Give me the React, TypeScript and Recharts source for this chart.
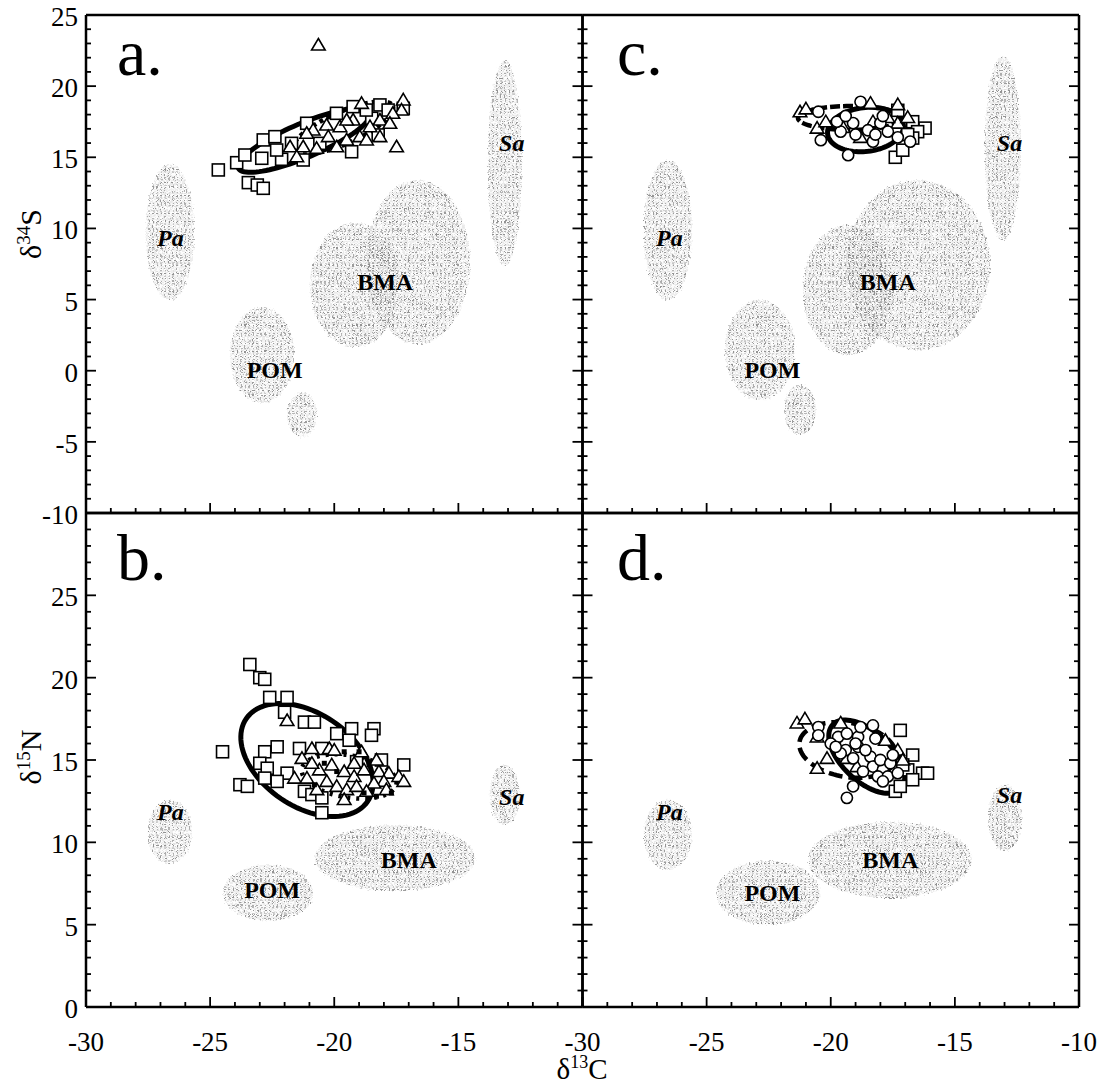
import React from 'react';
import { ScatterChart, Scatter, XAxis, YAxis, ReferenceArea } from 'recharts';

const W = 1103;
const H = 1086;
const FONT = 'Liberation Serif, Times New Roman, serif';

// ---------- axes ----------
const X_DOMAIN = [-30, -10];
const X_MAJOR = [-30, -25, -20, -15, -10];
const X_MINOR = [-30, -29, -28, -27, -26, -25, -24, -23, -22, -21, -20, -19, -18, -17, -16, -15, -14, -13, -12, -11, -10];
const S_DOMAIN = [-10, 25];
const S_MAJOR = [-10, -5, 0, 5, 10, 15, 20, 25];
const S_MINOR = [-10, -9, -8, -7, -6, -5, -4, -3, -2, -1, 0, 1, 2, 3, 4, 5, 6, 7, 8, 9, 10, 11, 12, 13, 14, 15, 16, 17, 18, 19, 20, 21, 22, 23, 24, 25];
const N_DOMAIN = [0, 30];
const N_MAJOR = [0, 5, 10, 15, 20, 25, 30];
const N_MINOR = [0, 1, 2, 3, 4, 5, 6, 7, 8, 9, 10, 11, 12, 13, 14, 15, 16, 17, 18, 19, 20, 21, 22, 23, 24, 25, 26, 27, 28, 29, 30];

// ---------- panel a (d13C vs d34S) ----------
const A_SQUARES = [
  [-24.67, 14.11], [-23.93, 14.62], [-23.46, 13.22], [-23.1, 13.05], [-22.86, 12.82], [-22.92, 14.93],
  [-23.6, 15.16], [-22.86, 16.22], [-22.39, 16.45], [-22.12, 14.86], [-22.32, 15.51], [-21.72, 15.98],
  [-21.11, 17.39], [-20.58, 15.98], [-19.3, 15.39], [-18.16, 18.68], [-17.83, 18.32], [-17.22, 18.44],
  [-18.49, 17.74], [-18.23, 16.57], [-19.24, 18.56], [-19.91, 18.09], [-21.25, 14.81], [-18.71, 18.32],
];
const A_TRIANGLES = [
  [-20.64, 22.89], [-17.49, 15.74], [-17.22, 19.03], [-17.29, 18.32], [-18.9, 18.79], [-17.64, 18.09],
  [-18.16, 17.62], [-18.56, 17.15], [-17.76, 17.39], [-18.97, 16.45], [-19.5, 16.22], [-19.77, 17.15],
  [-20.31, 17.27], [-20.24, 16.45], [-20.85, 16.92], [-21.25, 15.74], [-21.78, 15.74], [-21.51, 15.04],
  [-19.24, 17.62], [-20.71, 15.63], [-18.7, 16.22], [-19.9, 15.74], [-18.16, 16.45], [-21.11, 16.69],
  [-19.5, 17.62],
];

// ---------- panel b (d13C vs d15N) ----------
const B_SQUARES = [
  [-23.4, 20.8], [-23.0, 20.0], [-22.8, 19.9], [-22.6, 18.8], [-21.9, 18.8], [-22.0, 17.9], [-21.2, 17.3],
  [-20.8, 17.3], [-19.9, 16.6], [-19.3, 16.9], [-18.4, 16.9], [-18.5, 16.5], [-19.4, 16.2], [-24.5, 15.5],
  [-22.3, 15.8], [-22.8, 15.5], [-23.0, 14.8], [-22.7, 14.5], [-21.9, 14.2], [-22.8, 13.9], [-23.8, 13.5],
  [-23.5, 13.4], [-22.3, 13.7], [-21.4, 15.7], [-20.5, 15.7], [-21.2, 13.1], [-20.9, 12.9], [-20.5, 12.7],
  [-20.5, 11.8], [-18.1, 15.0], [-17.2, 14.7], [-19.1, 14.9],
];
const B_TRIANGLES = [
  [-21.9, 17.4], [-21.3, 15.1], [-20.9, 15.7], [-20.2, 15.7], [-20.0, 15.6], [-21.6, 13.9], [-21.1, 13.9],
  [-20.6, 14.4], [-20.1, 14.7], [-19.6, 14.3], [-19.2, 14.0], [-18.9, 15.5], [-18.8, 14.4], [-18.2, 14.3],
  [-17.8, 14.2], [-17.4, 14.0], [-17.2, 13.7], [-18.0, 13.7], [-18.4, 13.6], [-20.3, 13.7], [-19.9, 13.4],
  [-19.5, 13.2], [-19.1, 13.4], [-19.6, 12.6], [-20.7, 13.2], [-18.7, 13.1], [-17.9, 13.2], [-19.2, 14.8],
  [-20.9, 14.8], [-18.3, 15.0],
];
const B_DOTS = [
  [-20.4, 14.8], [-19.6, 15.5], [-19.0, 15.5], [-18.8, 13.0], [-18.3, 12.8], [-17.7, 13.0], [-19.9, 14.3],
  [-20.8, 13.5], [-18.6, 14.7],
];

// ---------- panel c (d13C vs d34S) ----------
const C_TRIANGLES = [
  [-21.24, 18.2], [-21.0, 18.4], [-18.4, 18.8], [-17.3, 18.7], [-17.3, 17.4], [-20.55, 17.05], [-20.2, 17.5],
  [-19.5, 17.1], [-18.3, 17.5], [-17.7, 17.8], [-16.9, 17.8], [-18.8, 16.4],
];
const C_CIRCLES = [
  [-20.5, 18.2], [-20.4, 16.2], [-18.8, 18.9], [-19.3, 15.15], [-19.1, 17.4], [-19.6, 16.8], [-18.0, 17.4],
  [-17.7, 16.8], [-18.3, 16.1], [-16.8, 16.1], [-17.3, 16.4], [-18.5, 16.9], [-19.75, 17.5], [-19.0, 16.6],
  [-18.2, 16.6], [-17.9, 17.9], [-19.4, 17.9],
];
const C_SQUARES = [
  [-16.7, 17.5], [-16.2, 17.05], [-16.5, 16.8], [-17.4, 15.0], [-17.1, 15.5], [-16.7, 16.35], [-17.3, 18.3],
  [-16.9, 16.6],
];

// ---------- panel d (d13C vs d15N) ----------
const D_TRIANGLES = [
  [-21.36, 17.25], [-21.04, 17.5], [-20.55, 16.4], [-20.15, 15.1], [-20.55, 14.5], [-19.6, 17.25],
  [-18.95, 14.6], [-19.35, 15.1], [-17.3, 15.6], [-17.8, 16.2], [-17.1, 15.0],
];
const D_CIRCLES = [
  [-20.5, 17.0], [-20.5, 16.5], [-19.7, 16.4], [-19.35, 16.6], [-18.9, 16.4], [-18.8, 17.0], [-18.3, 17.1],
  [-19.4, 15.6], [-18.9, 15.8], [-18.4, 15.2], [-18.3, 14.6], [-17.9, 14.4], [-18.1, 14.0], [-17.7, 14.0],
  [-17.9, 13.7], [-19.1, 13.4], [-19.35, 12.7], [-19.6, 15.4], [-19.1, 15.1], [-17.3, 14.2], [-20.0, 16.0],
  [-19.0, 16.0], [-18.6, 15.6], [-18.0, 15.0], [-17.6, 14.8], [-18.7, 14.3], [-19.8, 15.8], [-18.2, 16.3],
  [-17.5, 15.3],
];
const D_SQUARES = [
  [-17.2, 16.8], [-16.7, 15.3], [-16.3, 14.2], [-16.1, 14.2], [-16.9, 14.4], [-16.7, 13.8], [-17.4, 13.1],
  [-17.2, 13.4], [-17.1, 14.7],
];

// ---------- source regions (centre, semi-axis vectors, data units) ----------
const A_REGIONS = [
  { cx: -26.62, cy: 9.75, ux: 0.97, uy: 0, vx: 0, vy: 4.78 },
  { cx: -13.13, cy: 14.6, ux: 0.68, uy: 0, vx: 0, vy: 7.24 },
  { cx: -22.91, cy: 1.1, ux: 1.29, uy: 0, vx: 0, vy: 3.37 },
  { cx: -21.3, cy: -3.1, ux: 0.6, uy: 0, vx: 0, vy: 1.55 },
  { cx: -19.17, cy: 6.03, ux: 1.81, uy: 0, vx: 0, vy: 4.36 },
  { cx: -16.63, cy: 7.64, ux: 2.09, uy: 0, vx: 0, vy: 5.76 },
];
const C_REGIONS = [
  { cx: -26.56, cy: 9.89, ux: 0.97, uy: 0, vx: 0, vy: 4.92 },
  { cx: -13.07, cy: 15.65, ux: 0.72, uy: 0, vx: 0, vy: 6.47 },
  { cx: -22.85, cy: 1.46, ux: 1.41, uy: 0, vx: 0, vy: 3.51 },
  { cx: -21.24, cy: -2.76, ux: 0.64, uy: 0, vx: 0, vy: 1.76 },
  { cx: -19.31, cy: 5.67, ux: 1.81, uy: 0, vx: 0, vy: 4.57 },
  { cx: -16.49, cy: 7.43, ux: 2.9, uy: 0, vx: 0, vy: 5.97 },
];
const B_REGIONS = [
  { cx: -26.62, cy: 10.63, ux: 0.89, uy: 0, vx: 0, vy: 1.94 },
  { cx: -13.13, cy: 12.88, ux: 0.6, uy: 0, vx: 0, vy: 1.82 },
  { cx: -22.67, cy: 6.93, ux: 1.81, uy: 0, vx: 0, vy: 1.7 },
  { cx: -17.56, cy: 9.05, ux: 3.22, uy: 0, vx: 0, vy: 2.0 },
];
const D_REGIONS = [
  { cx: -26.56, cy: 10.45, ux: 0.97, uy: 0, vx: 0, vy: 2.13 },
  { cx: -12.98, cy: 11.48, ux: 0.68, uy: 0, vx: 0, vy: 2.0 },
  { cx: -22.53, cy: 6.93, ux: 2.09, uy: 0, vx: 0, vy: 1.94 },
  { cx: -17.62, cy: 8.93, ux: 3.3, uy: 0, vx: 0, vy: 2.31 },
];

// ---------- region labels ----------
const A_LABELS = [
  { x: -26.6, y: 9.3, t: 'Pa', it: true }, { x: -12.85, y: 16.0, t: 'Sa', it: true },
  { x: -22.4, y: 0.05, t: 'POM', it: false }, { x: -17.95, y: 6.2, t: 'BMA', it: false },
];
const C_LABELS = [
  { x: -26.5, y: 9.3, t: 'Pa', it: true }, { x: -12.8, y: 16.0, t: 'Sa', it: true },
  { x: -22.35, y: 0.05, t: 'POM', it: false }, { x: -17.7, y: 6.2, t: 'BMA', it: false },
];
const B_LABELS = [
  { x: -26.6, y: 11.85, t: 'Pa', it: true }, { x: -12.85, y: 12.75, t: 'Sa', it: true },
  { x: -22.5, y: 7.1, t: 'POM', it: false }, { x: -17.0, y: 8.9, t: 'BMA', it: false },
];
const D_LABELS = [
  { x: -26.5, y: 11.85, t: 'Pa', it: true }, { x: -12.8, y: 12.9, t: 'Sa', it: true },
  { x: -22.35, y: 6.9, t: 'POM', it: false }, { x: -17.6, y: 8.9, t: 'BMA', it: false },
];

// ---------- fitted ellipses ----------
const A_RINGS = [
  { cx: -21.2, cy: 16.2, ux: 2.66, uy: 1.97, vx: 0.27, vy: -1.1, dash: '' },
  { cx: -19.65, cy: 17.06, ux: 2.01, uy: 1.55, vx: 0.26, vy: -1.03, dash: '4 4' },
];
const B_RINGS = [
  { cx: -21.1, cy: 15.0, ux: 2.62, uy: -0.79, vx: -0.48, vy: 3.34, dash: '' },
  { cx: -19.4, cy: 14.0, ux: 1.9, uy: -0.5, vx: 0.2, vy: 1.25, dash: '3 6' },
];
const C_RINGS = [
  { cx: -18.6, cy: 16.95, ux: 1.53, uy: 0.21, vx: 0, vy: -1.55, dash: '' },
  { cx: -19.23, cy: 17.76, ux: 2.09, uy: 0, vx: 0, vy: 0.84, dash: '10 3' },
];
const D_RINGS = [
  { cx: -18.55, cy: 15.2, ux: 1.37, uy: -1.94, vx: -0.68, vy: -1.09, dash: '' },
  { cx: -19.31, cy: 15.61, ux: 1.93, uy: -0.61, vx: -0.32, vy: -1.58, dash: '14 6' },
];

const toPts = (arr: number[][]) => arr.map(([x, y]) => ({ x, y }));

// ---------- shapes ----------
const sq = (p: any) => (
  <rect x={p.cx - 6} y={p.cy - 6} width={12} height={12} fill="#fff" stroke="#000" strokeWidth={1.6} />
);
const tri = (p: any) => (
  <path d={`M${p.cx},${p.cy - 6.5}L${p.cx + 6.8},${p.cy + 5}L${p.cx - 6.8},${p.cy + 5}Z`} fill="#fff" stroke="#000" strokeWidth={1.6} />
);
const circ = (p: any) => <circle cx={p.cx} cy={p.cy} r={5.6} fill="#fff" stroke="#000" strokeWidth={1.6} />;
const dot = (p: any) => <rect x={p.cx - 2.5} y={p.cy - 2.5} width={5} height={5} fill="#000" />;
const txt = (p: any) => (
  <text x={p.cx} y={p.cy} textAnchor="middle" dominantBaseline="central" fontFamily={FONT} fontSize={24}
    fontWeight="bold" fontStyle={p.payload.it ? 'italic' : 'normal'} fill="#000">{p.payload.t}</text>
);

function ellShape(e: any, style: any) {
  return (p: any) => {
    const kx = p.width / 2;
    const ky = p.height / 2;
    const cx = p.x + kx;
    const cy = p.y + ky;
    let d = '';
    for (let i = 0; i <= 96; i++) {
      const t = (i / 96) * Math.PI * 2;
      const px = cx + (e.ux * Math.cos(t) + e.vx * Math.sin(t)) * kx;
      const py = cy - (e.uy * Math.cos(t) + e.vy * Math.sin(t)) * ky;
      d += (i ? 'L' : 'M') + px.toFixed(2) + ',' + py.toFixed(2);
    }
    d += 'Z';
    return <path d={d} {...style} />;
  };
}

// custom tick: draws inward tick mark (major/minor) and optional label
function makeTick(side: string, majors: number[], fmt: ((v: number) => string) | null) {
  return (p: any) => {
    const v = p.payload.value;
    const major = majors.indexOf(v) >= 0;
    const len = major ? 10 : 5;
    const x = p.x;
    const y = p.y;
    let line: any;
    let label: any = null;
    const lab = major && fmt ? fmt(v) : '';
    if (side === 'bottom') {
      line = <line x1={x} y1={y} x2={x} y2={y - len} stroke="#000" strokeWidth={1.8} />;
      if (lab) label = <text x={x} y={y + 44} textAnchor="middle" fontFamily={FONT} fontSize={27} fill="#000">{lab}</text>;
    } else if (side === 'top') {
      line = <line x1={x} y1={y} x2={x} y2={y + len} stroke="#000" strokeWidth={1.8} />;
    } else if (side === 'left') {
      line = <line x1={x} y1={y} x2={x + len} y2={y} stroke="#000" strokeWidth={1.8} />;
      if (lab) label = <text x={x - 8} y={y + 11} textAnchor="end" fontFamily={FONT} fontSize={27} fill="#000">{lab}</text>;
    } else {
      line = <line x1={x} y1={y} x2={x - len} y2={y} stroke="#000" strokeWidth={1.8} />;
    }
    return <g>{line}{label}</g>;
  };
}

const AXL = { stroke: '#000', strokeWidth: 2.5 };

type PanelProps = {
  frame: { l: number; r: number; t: number; b: number };
  yDomain: number[];
  yMajor: number[];
  yMinor: number[];
  xFmt: ((v: number) => string) | null;
  yFmt: ((v: number) => string) | null;
  regions: any[];
  labels: any[];
  rings: any[];
  squares: number[][];
  triangles: number[][];
  circles: number[][];
  dots: number[][];
};

function Panel(pp: PanelProps) {
  const { frame } = pp;
  const margin = { top: frame.t - 1, left: frame.l - 1, right: W - frame.r - 1, bottom: H - frame.b - 1 };
  const common = {
    type: 'number' as const, allowDataOverflow: true, interval: 0 as const,
    tickSize: 0, tickMargin: 0, tickLine: false, axisLine: AXL,
  };
  return (
    <div style={{ position: 'absolute', left: 0, top: 0, width: W, height: H }}>
      <ScatterChart width={W} height={H} margin={margin}>
        <XAxis xAxisId={0} dataKey="x" {...common} domain={X_DOMAIN} ticks={X_MINOR} height={1}
          tick={makeTick('bottom', X_MAJOR, pp.xFmt)} />
        <XAxis xAxisId="t" orientation="top" {...common} domain={X_DOMAIN} ticks={X_MINOR} height={1}
          tick={makeTick('top', X_MAJOR, null)} />
        <YAxis yAxisId={0} dataKey="y" {...common} domain={pp.yDomain} ticks={pp.yMinor} width={1}
          tick={makeTick('left', pp.yMajor, pp.yFmt)} />
        <YAxis yAxisId="r" orientation="right" {...common} domain={pp.yDomain} ticks={pp.yMinor} width={1}
          tick={makeTick('right', pp.yMajor, null)} />
        {pp.regions.map((e, i) => (
          <ReferenceArea key={'g' + i} x1={e.cx - 1} x2={e.cx + 1} y1={e.cy - 1} y2={e.cy + 1} ifOverflow="visible"
            shape={ellShape(e, { fill: 'url(#stipple)', stroke: 'none', filter: 'url(#rough)' })} />
        ))}
        <Scatter data={pp.labels} shape={txt} isAnimationActive={false} />
        <Scatter data={toPts(pp.squares)} shape={sq} isAnimationActive={false} />
        <Scatter data={toPts(pp.triangles)} shape={tri} isAnimationActive={false} />
        <Scatter data={toPts(pp.circles)} shape={circ} isAnimationActive={false} />
        <Scatter data={toPts(pp.dots)} shape={dot} isAnimationActive={false} />
        {pp.rings.map((e, i) => (
          <ReferenceArea key={'r' + i} x1={e.cx - 1} x2={e.cx + 1} y1={e.cy - 1} y2={e.cy + 1} ifOverflow="visible"
            shape={ellShape(e, {
              fill: 'none', stroke: '#000', strokeWidth: e.dash ? 4.5 : 5,
              strokeDasharray: e.dash || undefined,
            })} />
        ))}
      </ScatterChart>
    </div>
  );
}

const FA = { l: 86, r: 582.5, t: 15, b: 513 };
const FC = { l: 582.5, r: 1079, t: 15, b: 513 };
const FB = { l: 86, r: 582.5, t: 513, b: 1007 };
const FD = { l: 582.5, r: 1079, t: 513, b: 1007 };

export default function App() {
  return (
    <div style={{ position: 'absolute', left: 0, top: 0, width: W, height: H, background: '#fff' }}>
      <svg width={0} height={0} style={{ position: 'absolute' }}>
        <defs>
          <pattern id="stipple" patternUnits="userSpaceOnUse" width={4} height={2.6}>
            <rect x={0} y={0} width={2} height={0.9} fill="#8a8a8a" />
            <rect x={2.5} y={1.3} width={1} height={0.8} fill="#a6a6a6" />
          </pattern>
          <filter id="rough" x="-15%" y="-15%" width="130%" height="130%">
            <feTurbulence type="fractalNoise" baseFrequency="0.5" numOctaves={2} seed={4} result="n" />
            <feDisplacementMap in="SourceGraphic" in2="n" scale={6} xChannelSelector="R" yChannelSelector="G" />
          </filter>
        </defs>
      </svg>
      <Panel frame={FA} yDomain={S_DOMAIN} yMajor={S_MAJOR} yMinor={S_MINOR} xFmt={null}
        yFmt={(v) => String(v)} regions={A_REGIONS} labels={A_LABELS} rings={A_RINGS}
        squares={A_SQUARES} triangles={A_TRIANGLES} circles={[]} dots={[]} />
      <Panel frame={FC} yDomain={S_DOMAIN} yMajor={S_MAJOR} yMinor={S_MINOR} xFmt={null} yFmt={null}
        regions={C_REGIONS} labels={C_LABELS} rings={C_RINGS}
        squares={C_SQUARES} triangles={C_TRIANGLES} circles={C_CIRCLES} dots={[]} />
      <Panel frame={FB} yDomain={N_DOMAIN} yMajor={N_MAJOR} yMinor={N_MINOR}
        xFmt={(v) => (v === -10 ? '' : String(v))} yFmt={(v) => (v === 30 ? '' : String(v))}
        regions={B_REGIONS} labels={B_LABELS} rings={B_RINGS}
        squares={B_SQUARES} triangles={B_TRIANGLES} circles={[]} dots={B_DOTS} />
      <Panel frame={FD} yDomain={N_DOMAIN} yMajor={N_MAJOR} yMinor={N_MINOR} xFmt={(v) => String(v)} yFmt={null}
        regions={D_REGIONS} labels={D_LABELS} rings={D_RINGS}
        squares={D_SQUARES} triangles={D_TRIANGLES} circles={D_CIRCLES} dots={[]} />
      <svg width={W} height={H} style={{ position: 'absolute', left: 0, top: 0, pointerEvents: 'none' }}>
        <text fontFamily={FONT} fontSize={66} x={117} y={75}>a.</text>
        <text fontFamily={FONT} fontSize={66} x={617} y={75}>c.</text>
        <text fontFamily={FONT} fontSize={66} x={117} y={580}>b.</text>
        <text fontFamily={FONT} fontSize={66} x={617} y={580}>d.</text>
        <text fontFamily={FONT} transform="translate(41,234) rotate(-90)" textAnchor="middle" fontSize={30}>
          δ<tspan fontSize={19} dy={-11}>34</tspan><tspan dy={11}>S</tspan>
        </text>
        <text fontFamily={FONT} transform="translate(41,757) rotate(-90)" textAnchor="middle" fontSize={30}>
          δ<tspan fontSize={19} dy={-11}>15</tspan><tspan dy={11}>N</tspan>
        </text>
        <text fontFamily={FONT} x={582} y={1079} textAnchor="middle" fontSize={29}>
          δ<tspan fontSize={18} dy={-11}>13</tspan><tspan dy={11}>C</tspan>
        </text>
      </svg>
    </div>
  );
}
